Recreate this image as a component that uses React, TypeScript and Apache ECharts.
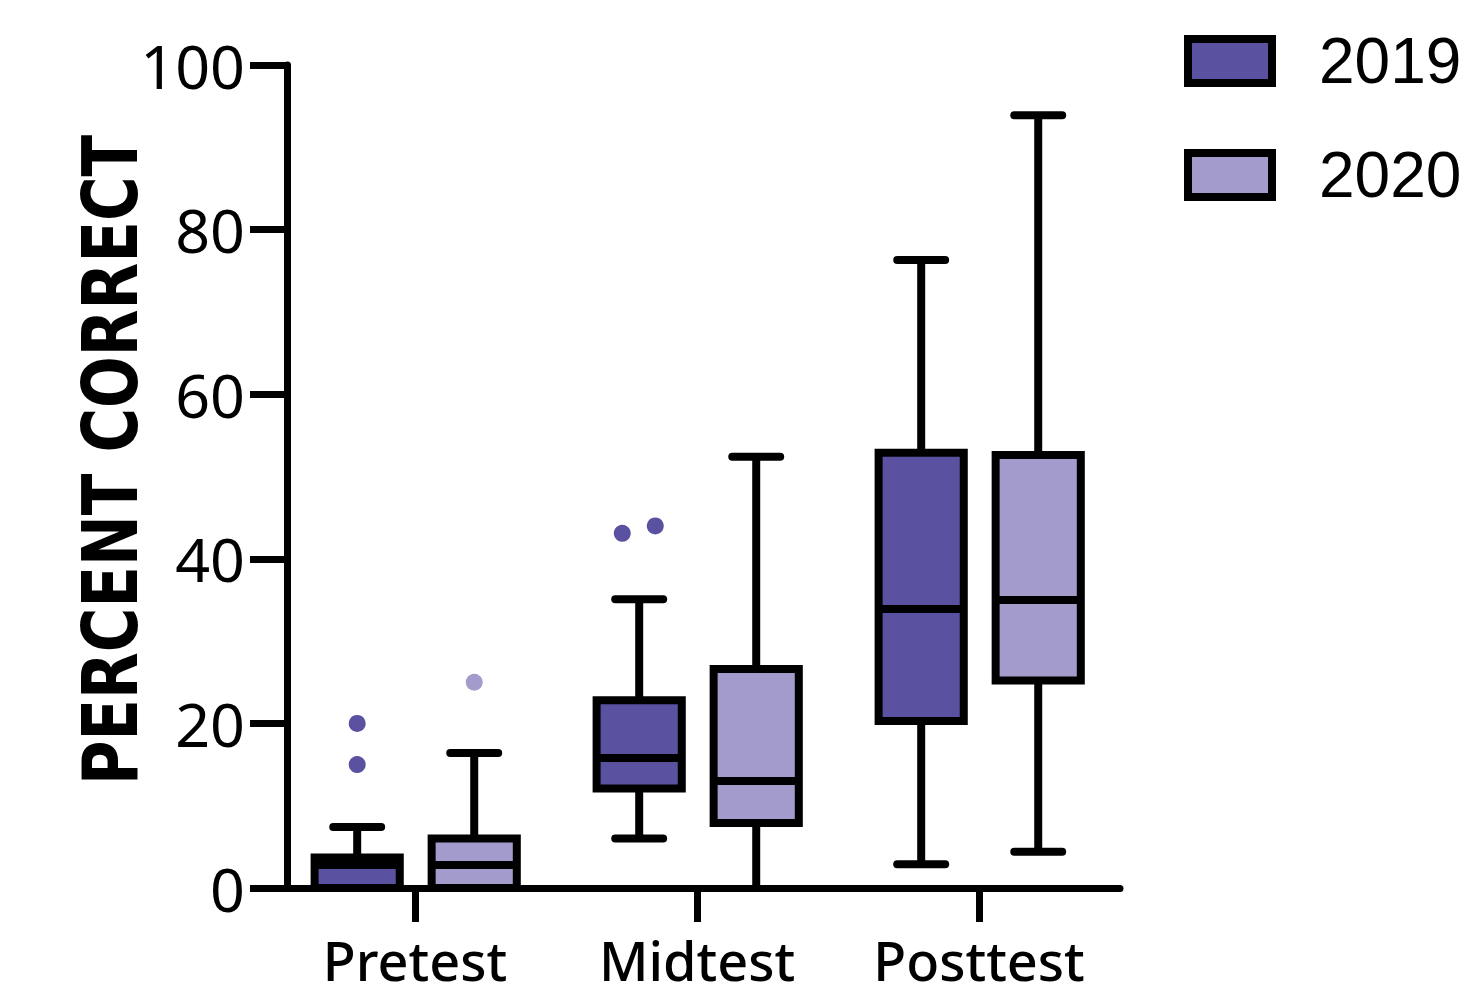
import React, { useEffect, useRef } from "react";
import * as echarts from "echarts";

const categories = ["Pretest", "Midtest", "Posttest"];
const yTicks = [0, 20, 40, 60, 80, 100];
// [categoryIndex, min, Q1, median, Q3, max]
const box2019 = [
  [0, 0, 0, 2.8, 3.7, 7.4],
  [1, 6.0, 12.1, 15.8, 22.8, 35.1],
  [2, 2.9, 20.3, 33.9, 52.9, 76.3],
];
const box2020 = [
  [0, 0, 0, 2.8, 6.0, 16.4],
  [1, 0, 7.9, 13.0, 26.6, 52.4],
  [2, 4.4, 25.2, 35.0, 52.6, 93.9],
];
// [categoryIndex, value, jitter (fraction of band)]
const outliers2019 = [
  [0, 20, 0],
  [0, 15, 0],
  [1, 43.1, -0.06],
  [1, 44.0, 0.057],
];
const outliers2020 = [[0, 25, 0]];

const COLOR_2019 = "#5B51A1";
const COLOR_2020 = "#A29BCB";

function boxRenderer(offset: number, fill: string) {
  return (params: any, api: any) => {
    const idx = api.value(0);
    const band = api.size([1, 0])[0];
    const cx = api.coord([idx, 0])[0] + offset * band;
    const hw = 0.151 * band;
    const cw = 0.085 * band;
    const yMin = api.coord([idx, api.value(1)])[1];
    const yQ1 = api.coord([idx, api.value(2)])[1];
    const yMed = api.coord([idx, api.value(3)])[1];
    const yQ3 = api.coord([idx, api.value(4)])[1];
    const yMax = api.coord([idx, api.value(5)])[1];
    const lineStyle = { stroke: "#000", lineWidth: 8, lineCap: "round" };
    const children: any[] = [
      { type: "line", shape: { x1: cx, y1: yQ3, x2: cx, y2: yMax }, style: { stroke: "#000", lineWidth: 8 } },
      { type: "line", shape: { x1: cx, y1: yQ1, x2: cx, y2: yMin }, style: { stroke: "#000", lineWidth: 8 } },
      { type: "line", shape: { x1: cx - cw, y1: yMax, x2: cx + cw, y2: yMax }, style: lineStyle },
    ];
    if (api.value(1) > 0) {
      children.push({ type: "line", shape: { x1: cx - cw, y1: yMin, x2: cx + cw, y2: yMin }, style: lineStyle });
    }
    children.push(
      {
        type: "rect",
        shape: { x: cx - hw, y: yQ3, width: hw * 2, height: yQ1 - yQ3 },
        style: { fill, stroke: "#000", lineWidth: 8 },
      },
      { type: "line", shape: { x1: cx - hw, y1: yMed, x2: cx + hw, y2: yMed }, style: { stroke: "#000", lineWidth: 8 } }
    );
    return { type: "group", children };
  };
}

function outlierRenderer(offset: number, fill: string) {
  return (params: any, api: any) => {
    const idx = api.value(0);
    const band = api.size([1, 0])[0];
    const p = api.coord([idx, api.value(1)]);
    const cx = p[0] + (offset + api.value(2)) * band;
    return { type: "circle", shape: { cx, cy: p[1], r: 8.5 }, style: { fill } };
  };
}

export default function App() {
  const ref = useRef<HTMLDivElement>(null);
  useEffect(() => {
    if (!ref.current) return;
    const chart = echarts.init(ref.current, null, { renderer: "svg" });
    chart.setOption({
      animation: false,
      backgroundColor: "#fff",
      grid: { left: 274, right: 356, top: 65, bottom: 108 },
      legend: {
        orient: "vertical",
        left: 1179,
        top: 24,
        itemWidth: 84,
        itemHeight: 44,
        itemGap: 50,
        icon: "rect",
        data: ["2019", "2020"],
        itemStyle: { borderColor: "#000", borderWidth: 8 },
        textStyle: {
          fontSize: 64,
          lineHeight: 44,
          color: "#000",
          fontFamily: "Liberation Sans",
          padding: [0, 0, 0, 42],
        },
        selectedMode: false,
      },
      xAxis: {
        type: "category",
        data: categories,
        axisLine: { lineStyle: { color: "#000", width: 7 } },
        axisTick: {
          show: true,
          interval: 0,
          alignWithLabel: true,
          length: 34,
          lineStyle: { color: "#000", width: 7 },
        },
        axisLabel: {
          interval: 0,
          fontSize: 54,
          lineHeight: 50,
          color: "#000",
          fontFamily: "Noto Sans",
          fontWeight: 500,
          margin: 47,
        },
      },
      yAxis: {
        type: "value",
        min: yTicks[0],
        max: yTicks[yTicks.length - 1],
        interval: 20,
        offset: -13,
        splitLine: { show: false },
        axisLine: { show: true, lineStyle: { color: "#000", width: 7 } },
        axisTick: { show: true, length: 37, lineStyle: { color: "#000", width: 7 } },
        axisLabel: {
          fontSize: 61,
          color: "#000",
          fontFamily: "Noto Sans",
          margin: 42,
        },
      },
      graphic: [
        {
          type: "text",
          x: 110,
          y: 460,
          rotation: Math.PI / 2,
          scaleX: 0.8,
          style: {
            text: "PERCENT CORRECT",
            fontSize: 76,
            fontWeight: "bold",
            fontFamily: "DejaVu Sans",
            fill: "#000",
            textAlign: "center",
            textVerticalAlign: "middle",
          },
        },
      ],
      series: [
        {
          name: "2019",
          type: "custom",
          itemStyle: { color: COLOR_2019 },
          renderItem: boxRenderer(-0.205, COLOR_2019),
          encode: { x: 0, y: [1, 2, 3, 4, 5] },
          data: box2019,
          z: 3,
        },
        {
          name: "2020",
          type: "custom",
          itemStyle: { color: COLOR_2020 },
          renderItem: boxRenderer(0.21, COLOR_2020),
          encode: { x: 0, y: [1, 2, 3, 4, 5] },
          data: box2020,
          z: 3,
        },
        {
          name: "2019 outliers",
          type: "custom",
          renderItem: outlierRenderer(-0.205, COLOR_2019),
          encode: { x: 0, y: 1 },
          data: outliers2019,
          z: 4,
        },
        {
          name: "2020 outliers",
          type: "custom",
          renderItem: outlierRenderer(0.21, COLOR_2020),
          encode: { x: 0, y: 1 },
          data: outliers2020,
          z: 4,
        },
      ],
    });
    return () => chart.dispose();
  }, []);
  return (
    <div
      ref={ref}
      style={{ position: "fixed", left: 0, top: 0, width: 1476, height: 996 }}
    />
  );
}
